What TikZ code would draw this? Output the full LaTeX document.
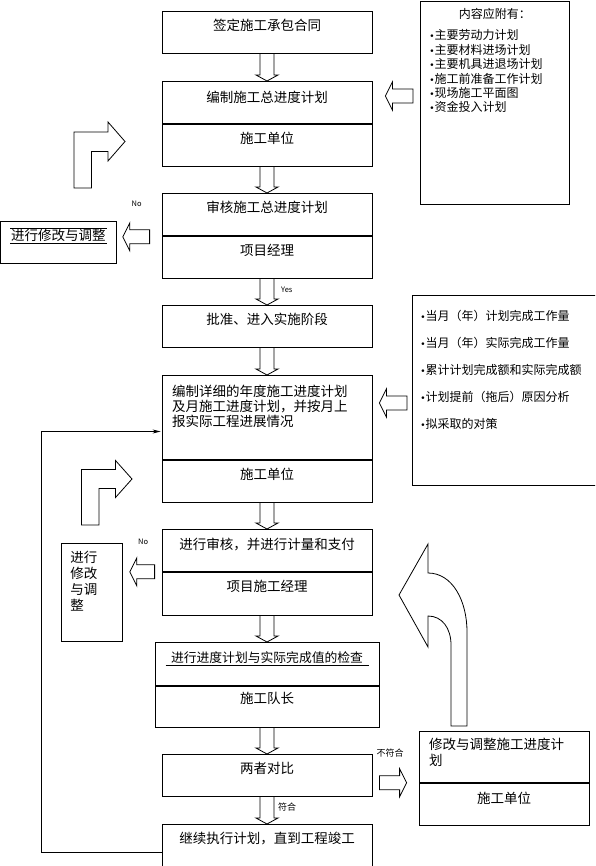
\documentclass[tikz,border=0pt]{standalone}
\usepackage{fontspec}
\setmainfont{Noto Sans CJK SC}
\newfontfamily\bulletfont{DejaVu Sans}
\usetikzlibrary{calc,arrows.meta}

\newcommand{\boxfont}{\fontsize{13.5}{15}\selectfont}
\newcommand{\listfont}{\fontsize{12}{14.4}\selectfont}
\newcommand{\tagfont}{\fontsize{7.5}{8}\selectfont}
\newcommand{\cntagfont}{\fontsize{9}{10}\selectfont}
\newcommand{\dotmark}{{\bulletfont\fontsize{9}{9}\selectfont •}}

% hollow arrow going down from one box to the next
\newcommand{\blockdown}[2]{%
  \draw[block] ($(#1.south)+(-7,0)$) -- ($(#2.north)+(-7,-6)$)
    -- ($(#2.north)+(-11,-6)$) -- (#2.north) -- ($(#2.north)+(11,-6)$)
    -- ($(#2.north)+(7,-6)$) -- ($(#1.south)+(7,0)$);}
% hollow arrow lying sideways, tail #1 and tip #2
\newcommand{\blockside}[2]{%
  \draw[block] let \p1=#1, \p2=#2, \n1={sign(\x1-\x2)} in
    (\x1,\y1-7pt) -- ({\x2+7*\n1},\y1-7pt) -- ({\x2+7*\n1},\y1-14pt)
    -- (\x2,\y1) -- ({\x2+7*\n1},\y1+14pt) -- ({\x2+7*\n1},\y1+7pt)
    -- (\x1,\y1+7pt) -- cycle;}

\begin{document}
\begin{tikzpicture}[x=1pt, y=-1pt, >={Stealth[length=8pt,width=4pt]},
    part/.style={draw, line width=0.8pt, anchor=north, minimum width=210pt,
      inner ysep=4pt, text height=15pt, text depth=#1, font=\boxfont},
    part/.default=19pt,
    block/.style={draw, line width=0.8pt},
    tag/.style={font=\tagfont, inner sep=0pt}]

        \clip (0,0) rectangle (595,866);

        % main column
        \node[part] (b1) at (267,11) {签定施工承包合同};
        \node[part=17pt, text height=17pt] (b2a) at (267,81) {编制施工总进度计划};
        \node[part] (b2b) at (b2a.south) {施工单位};
        \node[part] (b3a) at (267,193) {审核施工总进度计划};
        \node[part] (b3b) at (b3a.south) {项目经理};
        \node[part] (b4) at (267,305) {批准、进入实施阶段};
        \node[part=59pt, text height=17pt, text width=190pt, inner xsep=10pt, align=left] (b5a) at (267,375)
            {编制详细的年度施工进度计划\\及月施工进度计划，并按月上\\报实际工程进展情况};
        \node[part] (b5b) at (b5a.south) {施工单位};
        \node[part=18pt, text height=16pt] (b6a) at (267,529) {进行审核，并进行计量和支付};
        \node[part=20pt] (b6b) at (b6a.south) {项目施工经理};
        \node[part=19.4pt, minimum width=224pt, text height=15.6pt, font=\fontsize{12.8}{14}\selectfont] (b7a) at (267,642)
            {进行进度计划与实际完成值的检查};
        \node[part=20.2pt, minimum width=224pt, text height=12.8pt] (b7b) at (b7a.south) {施工队长};
        \node[part] (b8) at (267,754) {两者对比};
        \node[part=37pt] (b9) at (267,824) {继续执行计划，直到工程竣工};

        % underline of the check box
        \draw[block] ([xshift=11pt,yshift=-23pt]b7a.north west) -- ([xshift=-10pt,yshift=-23pt]b7a.north east);

        % side boxes
        \node[part=29pt, minimum width=170pt, text width=150pt, inner xsep=10pt, text height=14pt, align=left,
            font=\fontsize{13.5}{16}\selectfont] (b10a) at (504,731) {修改与调整施工进度计\\划};
        \node[part=18pt, minimum width=170pt, text height=16pt] (b10b) at (b10a.south) {施工单位};
        \node[part, anchor=north west, minimum width=116pt] (fix1) at (0,221) {进行修改与调整};
        \draw[block] ([xshift=10pt,yshift=-7pt]fix1.north west) -- ([xshift=-10pt,yshift=-7pt]fix1.north east);
        \draw[block] ([xshift=10pt,yshift=-22.3pt]fix1.north west) -- ([xshift=-10pt,yshift=-22.3pt]fix1.north east);
        \node[part=75.7pt, anchor=north west, minimum width=61pt, text width=43pt, inner xsep=9pt, text height=14.7pt,
            align=left, font=\fontsize{13.5}{16}\selectfont] (fix2) at (61,543) {进行\\修改\\与调\\整};

        % notes on the right
        \node[part=181.5pt, anchor=north west, minimum width=149pt, text width=131pt, inner xsep=9pt, text height=13.5pt,
            align=left, font=\listfont] (info1) at (420,1)
            {\makebox[131pt]{内容应附有：}\\[6.6pt]
             \dotmark 主要劳动力计划\\
             \dotmark 主要材料进场计划\\
             \dotmark 主要机具进退场计划\\
             \dotmark 施工前准备工作计划\\
             \dotmark 现场施工平面图\\
             \dotmark 资金投入计划};
        \node[part=160.5pt, anchor=north west, minimum width=188pt, text width=172pt, inner xsep=8pt, text height=21.5pt,
            align=left, font=\fontsize{12}{27}\selectfont] (info2) at (412,295)
            {\dotmark 当月（年）计划完成工作量\\
             \dotmark 当月（年）实际完成工作量\\
             \dotmark 累计计划完成额和实际完成额\\
             \dotmark 计划提前（拖后）原因分析\\
             \dotmark 拟采取的对策};

        % hollow arrows down the column
        \blockdown{b1}{b2a}
        \blockdown{b2b}{b3a}
        \blockdown{b3b}{b4}
        \blockdown{b4}{b5a}
        \blockdown{b5b}{b6a}
        \blockdown{b6b}{b7a}
        \blockdown{b7b}{b8}
        \blockdown{b8}{b9}

        % hollow arrows sideways
        \blockside{($(info1.west|-b2a.north)+(-7,15)$)}{($(b2a.north east)+(13,15)$)}
        \blockside{($(b3a.south west)+(-12,1)$)}{($(fix1.east|-b3a.south)+(6,1)$)}
        \blockside{($(info2.west|-b5a.north)+(-5,28)$)}{($(b5a.north east)+(7,28)$)}
        \blockside{($(b6a.south west)+(-7,0)$)}{($(fix2.east|-b6a.south)+(7,0)$)}
        \blockside{($(b8.east|-b10a.south)+(7,0)$)}{($(b10a.south west)+(-12,0)$)}

        % bent arrows on the left
        \draw[block] (74,188) -- (74,132) -- (108,132) -- (108,122) -- (125,141.5) -- (108,161)
            -- (108,151.5) -- (91.5,151.5) -- (91.5,188) -- cycle;
        \draw[block] (81.5,525) -- (81.5,469.5) -- (115.5,469.5) -- (115.5,460.5) -- (132,479) -- (115.5,497.5)
            -- (115.5,488.5) -- (99,488.5) -- (99,525) -- cycle;

        % curved arrow back up
        \draw[block] (451,726) -- (451,645) .. controls (451,628) and (442,616) .. (428,616) -- (428,647)
            -- (399,595) -- (428,544) -- (428,573) .. controls (452,573) and (467,600) .. (467,632)
            -- (467,726) -- cycle;

        % loop back to the yearly plan
        \coordinate (loop) at (41,852);
        \draw[block, ->, shorten >=1pt] ($(b9.north west)+(0,28)$) -- (loop) |- ($(b5a.north west)+(0,56.5)$);

        % Labels
        \node[tag] (no1) at ($(b3a.north west)+(-25,11)$) {No};
        \node[tag] (no2) at ($(b6a.north west)+(-18.5,12.7)$) {No};
        \node[tag, anchor=west] (yes) at ($(b3b.south)+(14,11)$) {Yes};
        \node[tag, anchor=west, font=\cntagfont] (ok) at ($(b8.south)+(11,10)$) {符合};
        \node[tag, anchor=west, font=\cntagfont] (notok) at ($(b8.north east)+(4,-1)$) {不符合};
\end{tikzpicture}
\end{document}
